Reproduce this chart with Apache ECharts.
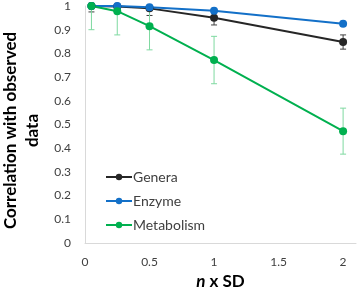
<!DOCTYPE html>
<html>
<head>
<meta charset="utf-8">
<script src="https://cdn.jsdelivr.net/npm/echarts@6/dist/echarts.min.js"></script>
<style>
  html, body { margin: 0; padding: 0; background: #fff; }
  #chart { width: 358px; height: 289px; }
</style>
</head>
<body>
<div id="chart"></div>
<script>
// n x SD values
var xs = [0.05, 0.25, 0.5, 1, 2];

var genera = [1, 0.998, 0.99, 0.95, 0.848];
var generaErr = [0.025, 0.02, 0.03, 0.03, 0.03];

var enzyme = [1, 1, 0.995, 0.98, 0.925];
var enzymeErr = [0.005, 0.005, 0.008, 0.01, 0.01];

var metabolism = [1, 0.978, 0.915, 0.772, 0.472];
var metabolismErr = [0.1, 0.1, 0.1, 0.1, 0.097];

var yTicks = [0, 0.1, 0.2, 0.3, 0.4, 0.5, 0.6, 0.7, 0.8, 0.9, 1];

var font = 'Lato';

function pairs(ys) {
  return xs.map(function (x, i) { return [x, ys[i]]; });
}
function errData(ys, es) {
  return xs.map(function (x, i) { return [x, ys[i], es[i]]; });
}
function errSeries(ys, es, color) {
  return {
    type: 'custom',
    clip: true,
    silent: true,
    z: 1,
    data: errData(ys, es),
    renderItem: function (params, api) {
      var x = api.value(0), y = api.value(1), e = api.value(2);
      var top = api.coord([x, y + e]);
      var bot = api.coord([x, y - e]);
      var cap = 3;
      var style = { stroke: color, lineWidth: 1 };
      return {
        type: 'group',
        children: [
          { type: 'line', shape: { x1: top[0], y1: top[1], x2: bot[0], y2: bot[1] }, style: style },
          { type: 'line', shape: { x1: top[0] - cap, y1: top[1], x2: top[0] + cap, y2: top[1] }, style: style },
          { type: 'line', shape: { x1: bot[0] - cap, y1: bot[1], x2: bot[0] + cap, y2: bot[1] }, style: style }
        ]
      };
    }
  };
}
function lineSeries(name, ys, color) {
  return {
    name: name,
    type: 'line',
    data: pairs(ys),
    symbol: 'circle',
    symbolSize: 8,
    showSymbol: true,
    z: 3,
    lineStyle: { color: color, width: 2 },
    itemStyle: { color: color }
  };
}

var chart = echarts.init(document.getElementById('chart'));
chart.setOption({
  animation: false,
  textStyle: { fontFamily: font },
  grid: { left: 85, right: 2, top: 6, bottom: 46, outerBoundsMode: 'none' },
  legend: {
    orient: 'vertical',
    left: 100,
    top: 165,
    itemWidth: 26,
    itemHeight: 8,
    itemGap: 10,
    data: ['Genera', 'Enzyme', 'Metabolism'],
    textStyle: { fontFamily: font, fontSize: 14, color: '#404040', padding: [0, 0, 0, -4] }
  },
  xAxis: {
    type: 'value',
    min: 0,
    max: 2.1,
    interval: 0.5,
    splitLine: { show: false },
    axisTick: { show: false },
    axisLine: { lineStyle: { color: '#d9d9d9' } },
    axisLabel: { showMaxLabel: false, fontSize: 12, color: '#404040', margin: 13, fontFamily: font },
    name: '{i|n} x SD',
    nameLocation: 'middle',
    nameGap: 28,
    nameTextStyle: {
      fontFamily: font, fontSize: 17, fontWeight: 'bold', color: '#000',
      rich: { i: { fontFamily: font, fontSize: 17, fontWeight: 'bold', fontStyle: 'italic', color: '#000' } }
    }
  },
  yAxis: {
    type: 'value',
    min: yTicks[0],
    max: yTicks[yTicks.length - 1],
    interval: 0.1,
    splitLine: { show: false },
    axisTick: { show: false },
    axisLine: { show: true, lineStyle: { color: '#d9d9d9' } },
    axisLabel: { fontSize: 12, color: '#404040', margin: 14, fontFamily: font,
      formatter: function (v) { return String(Math.round(v * 10) / 10); } },
    name: 'Correlation with observed\ndata',
    nameLocation: 'middle',
    nameGap: 41,
    nameTextStyle: { fontFamily: font, fontSize: 17, fontWeight: 'bold', color: '#000', lineHeight: 22,
      padding: [0, 12, 0, 0] }
  },
  series: [
    errSeries(genera, generaErr, '#404040'),
    errSeries(enzyme, enzymeErr, '#5a8fd0'),
    errSeries(metabolism, metabolismErr, '#7ed9a0'),
    lineSeries('Genera', genera, '#262626'),
    lineSeries('Enzyme', enzyme, '#1370c8'),
    lineSeries('Metabolism', metabolism, '#00b04f')
  ]
});
</script>
</body>
</html>
